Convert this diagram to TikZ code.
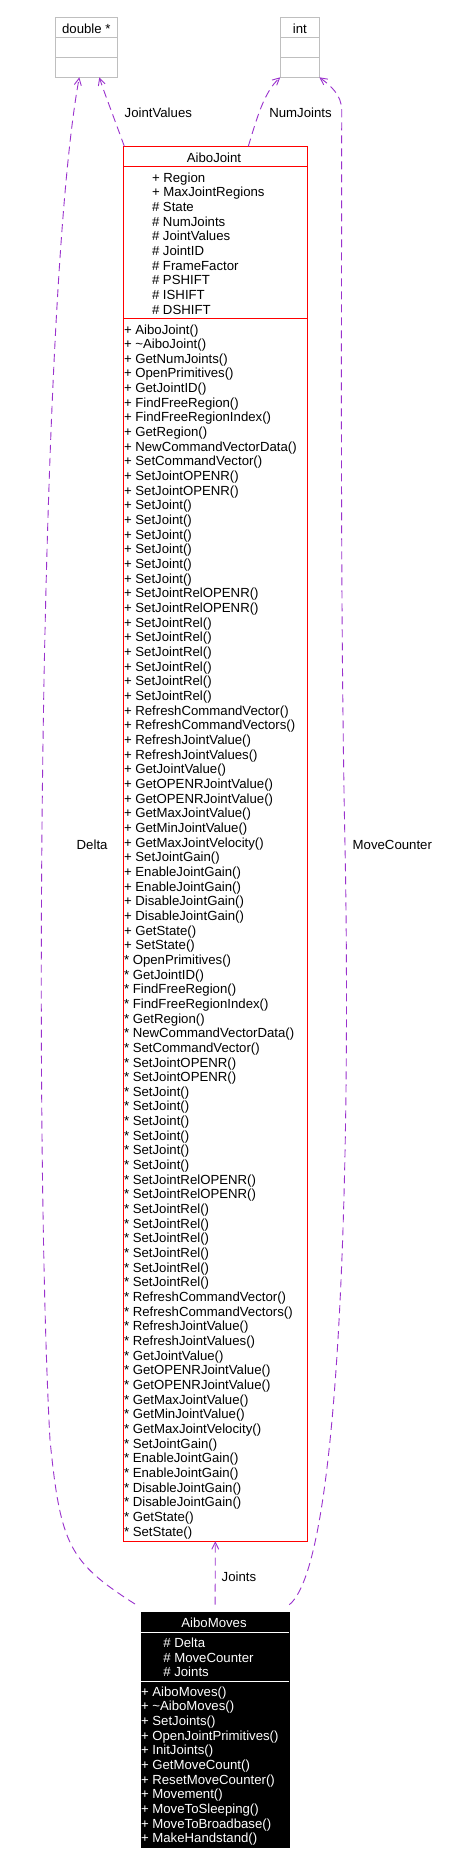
\documentclass[tikz,border=0pt]{standalone}
\usepackage{fontspec}
\setmainfont{Liberation Sans}
\usetikzlibrary{arrows.meta}
\definecolor{usagecol}{HTML}{9A32CD}
\definecolor{boxgrey}{HTML}{BFBFBF}
\def\jointcommon{OpenPrimitives(), GetJointID(), FindFreeRegion(), FindFreeRegionIndex(), GetRegion(), NewCommandVectorData(), SetCommandVector(), SetJointOPENR(), SetJointOPENR(), SetJoint(), SetJoint(), SetJoint(), SetJoint(), SetJoint(), SetJoint(), SetJointRelOPENR(), SetJointRelOPENR(), SetJointRel(), SetJointRel(), SetJointRel(), SetJointRel(), SetJointRel(), SetJointRel(), RefreshCommandVector(), RefreshCommandVectors(), RefreshJointValue(), RefreshJointValues(), GetJointValue(), GetOPENRJointValue(), GetOPENRJointValue(), GetMaxJointValue(), GetMinJointValue(), GetMaxJointVelocity(), SetJointGain(), EnableJointGain(), EnableJointGain(), DisableJointGain(), DisableJointGain(), GetState(), SetState()}
\begin{document}
\begin{tikzpicture}[x=1pt,y=-1pt,
  every node/.style={font=\fontsize{13.2}{15}\selectfont, inner sep=0pt, outer sep=0pt},
  txt/.style={anchor=base west},
  ttl/.style={anchor=base},
  greybox/.style={draw=boxgrey, line width=1pt, anchor=north west},
  usage/.style={draw=usagecol, line width=0.9pt, dash pattern=on 8pt off 5pt, -{Straight Barb[length=7pt,width=7pt]}},
]
\useasboundingbox (0,0) rectangle (452,1865);
\fill[white] (0,0) rectangle (452,1865);

% double *
\node[greybox, minimum width=62pt, minimum height=60pt] (dbl) at (55.3,17.3) {};
\draw[boxgrey, line width=1pt] ([yshift=-20pt]dbl.north west) -- ([yshift=-20pt]dbl.north east);
\draw[boxgrey, line width=1pt] ([yshift=-40pt]dbl.north west) -- ([yshift=-40pt]dbl.north east);
\node[ttl] (dblt) at (86.3,33.3) {double *};

% int
\node[greybox, minimum width=39pt, minimum height=60pt] (int) at (280.3,17.3) {};
\draw[boxgrey, line width=1pt] ([yshift=-20pt]int.north west) -- ([yshift=-20pt]int.north east);
\draw[boxgrey, line width=1pt] ([yshift=-40pt]int.north west) -- ([yshift=-40pt]int.north east);
\node[ttl] (intt) at (299.8,33.3) {int};

% AiboJoint
\node[draw=red, line width=1pt, anchor=north west, minimum width=184pt, minimum height=1395pt] (aj) at (123.3,146.3) {};
\draw[red, line width=1pt] ([yshift=-20pt]aj.north west) -- ([yshift=-20pt]aj.north east);
\draw[red, line width=1pt] ([yshift=-172pt]aj.north west) -- ([yshift=-172pt]aj.north east);
\node[ttl] (ajt) at (214,162.3) {AiboJoint};
\foreach \t [count=\i from 0] in {+ Region, + MaxJointRegions, \# State, \# NumJoints, \# JointValues, \# JointID, \# FrameFactor, \# PSHIFT, \# ISHIFT, \# DSHIFT}
  \node[txt] (ja\i) at (152,{182+\i*14.67}) {\t};
\node[txt] (jp0) at (124,334) {+ AiboJoint()};
\node[txt] (jp1) at (124,{334+14.66}) {+ \textasciitilde AiboJoint()};
\node[txt] (jp2) at (124,{334+2*14.66}) {+ GetNumJoints()};
\foreach \t [count=\i from 3] in \jointcommon
  \node[txt] (jp\i) at (124,{334+\i*14.66}) {+ \t};
\foreach \t [count=\i from 43] in \jointcommon
  \node[txt] (js\i) at (124,{334+\i*14.66}) {* \t};

% AiboMoves
\node[draw=black, fill=black, line width=1pt, anchor=north west, minimum width=148.3pt, minimum height=234.6pt] (am) at (141,1612.7) {};
\draw[white, line width=1pt] ([yshift=-19.3pt]am.north west) -- ([yshift=-19.3pt]am.north east);
\draw[white, line width=1pt] ([yshift=-69pt]am.north west) -- ([yshift=-69pt]am.north east);
\node[ttl, text=white] (amt) at (214,1627.7) {AiboMoves};
\foreach \t [count=\i from 0] in {\# Delta, \# MoveCounter, \# Joints}
  \node[txt, text=white] (ma\i) at (163.3,{1647.7+\i*14.5}) {\t};
\foreach \t [count=\i from 0] in {AiboMoves(), \textasciitilde AiboMoves(), SetJoints(), OpenJointPrimitives(), InitJoints(), GetMoveCount(), ResetMoveCounter(), Movement(), MoveToSleeping(), MoveToBroadbase(), MakeHandstand()}
  \node[txt, text=white] (mm\i) at (141,{1696+\i*14.67}) {+ \t};

% connectors
\draw[usage] ([shift={(-6,-8.7)}]am.north west) .. controls (69,1562) and (60.5,1545) .. (50,1440)
  .. controls (34,1150) and (38,300) .. ([xshift=-7pt]dbl.south);
\draw[usage] ([xshift=1pt]aj.north west) .. controls (113,115) and (104,92) .. ([xshift=13pt]dbl.south);
\draw[usage] ([xshift=33pt]aj.north) .. controls (257,118) and (264,92) .. (int.south west);
\draw[usage] ([yshift=8pt]am.north east) .. controls (345,1560) and (350,1100) .. (345,845)
  .. controls (340,600) and (341.7,300) .. (341.7,110) .. controls (341.7,95) and (330,85) .. (int.south east);
\draw[usage] ([yshift=8pt]am.north) -- (aj.south);

% connector labels
\node[txt] (lbljv) at (124.7,117.4) {JointValues};
\node[txt] (lblnj) at (269.3,117.4) {NumJoints};
\node[txt] (lbldelta) at (76.7,849.7) {Delta};
\node[txt] (lblmc) at (352.7,849.7) {MoveCounter};
\node[txt] (lbljoints) at (221.7,1581.4) {Joints};
\end{tikzpicture}
\end{document}
